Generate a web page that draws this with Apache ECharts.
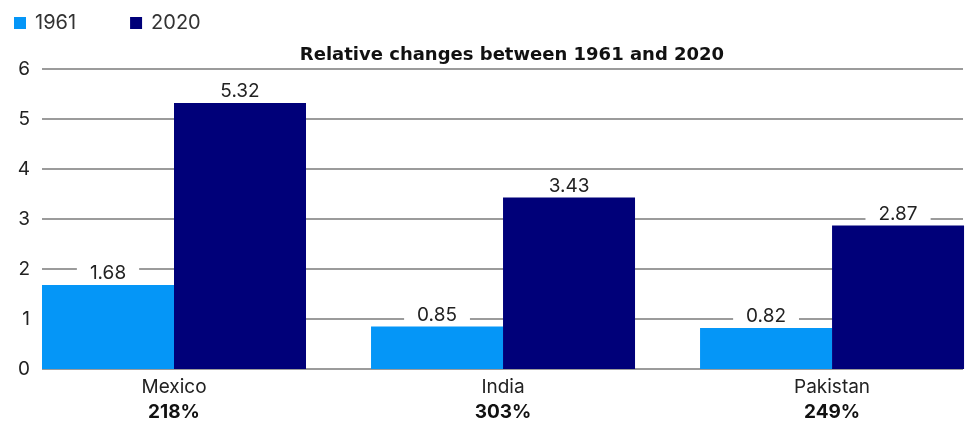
<!DOCTYPE html>
<html>
<head>
<meta charset="utf-8">
<script src="https://cdn.jsdelivr.net/npm/echarts@6/dist/echarts.min.js"></script>
<style>html,body{margin:0;padding:0;background:#fff;}#c{width:969px;height:422px;}</style>
</head>
<body>
<div id="c"></div>
<script>
const categories = ['Mexico', 'India', 'Pakistan'];
const changes = ['218%', '303%', '249%'];
const values1961 = [1.68, 0.85, 0.82];
const values2020 = [5.32, 3.43, 2.87];
const yTicks = [0, 1, 2, 3, 4, 5, 6];

const font = 'Inter, "Noto Sans", sans-serif';
const chart = echarts.init(document.getElementById('c'));
const labelStyle = {
  show: true, position: 'top', distance: 2,
  color: '#222', fontFamily: font, fontSize: 19,
  backgroundColor: '#fff', padding: [1, 13, 0, 13],
  formatter: p => p.value[1]
};
// category positions on a value axis (0,1,2), with padding so the bands line up
const xMin = -0.4012, xMax = 2.398;
const toPairs = arr => arr.map((v, i) => [i, v]);
chart.setOption({
  animation: false,
  title: {
    text: 'Relative changes between 1961 and 2020',
    left: 507, top: 41, textAlign: 'center',
    textStyle: { fontFamily: '"DejaVu Sans", sans-serif', fontSize: 18, fontWeight: 'bold', color: '#111' }
  },
  legend: {
    data: ['1961', '2020'], left: 9, top: 8,
    itemWidth: 12, itemHeight: 12, itemGap: 54, icon: 'rect',
    textStyle: { fontFamily: font, fontSize: 20, color: '#333', padding: [0, 0, 0, 4] }
  },
  grid: { left: 42, right: 6, top: 69, bottom: 53 },
  xAxis: {
    type: 'value', min: xMin, max: xMax, splitNumber: 3,
    axisLine: { show: false }, axisTick: { show: false }, splitLine: { show: false },
    axisLabel: {
      margin: 6, showMinLabel: false, showMaxLabel: false,
      formatter: v => {
        const i = Math.round(v);
        if (Math.abs(v - i) > 1e-6 || i < 0 || i >= categories.length) return '';
        return '{a|' + categories[i] + '}\n{b|' + changes[i] + '}';
      },
      rich: {
        a: { fontFamily: font, fontSize: 19, color: '#222', lineHeight: 25 },
        b: { fontFamily: font, fontSize: 19, fontWeight: 'bold', color: '#111', lineHeight: 25 }
      }
    }
  },
  yAxis: {
    type: 'value', min: yTicks[0], max: yTicks[yTicks.length - 1], interval: 1,
    axisLine: { show: false }, axisTick: { show: false },
    axisLabel: { margin: 12, fontFamily: font, fontSize: 19, color: '#222' },
    splitLine: { lineStyle: { color: '#7a7a7a', width: 1.5 } }
  },
  series: [
    { name: '1961', type: 'bar', data: toPairs(values1961),
      barWidth: 132, barGap: 0, itemStyle: { color: '#0596f7' }, label: labelStyle },
    { name: '2020', type: 'bar', data: toPairs(values2020),
      barWidth: 132, barGap: 0, itemStyle: { color: '#000079' }, label: labelStyle }
  ]
});
</script>
</body>
</html>
